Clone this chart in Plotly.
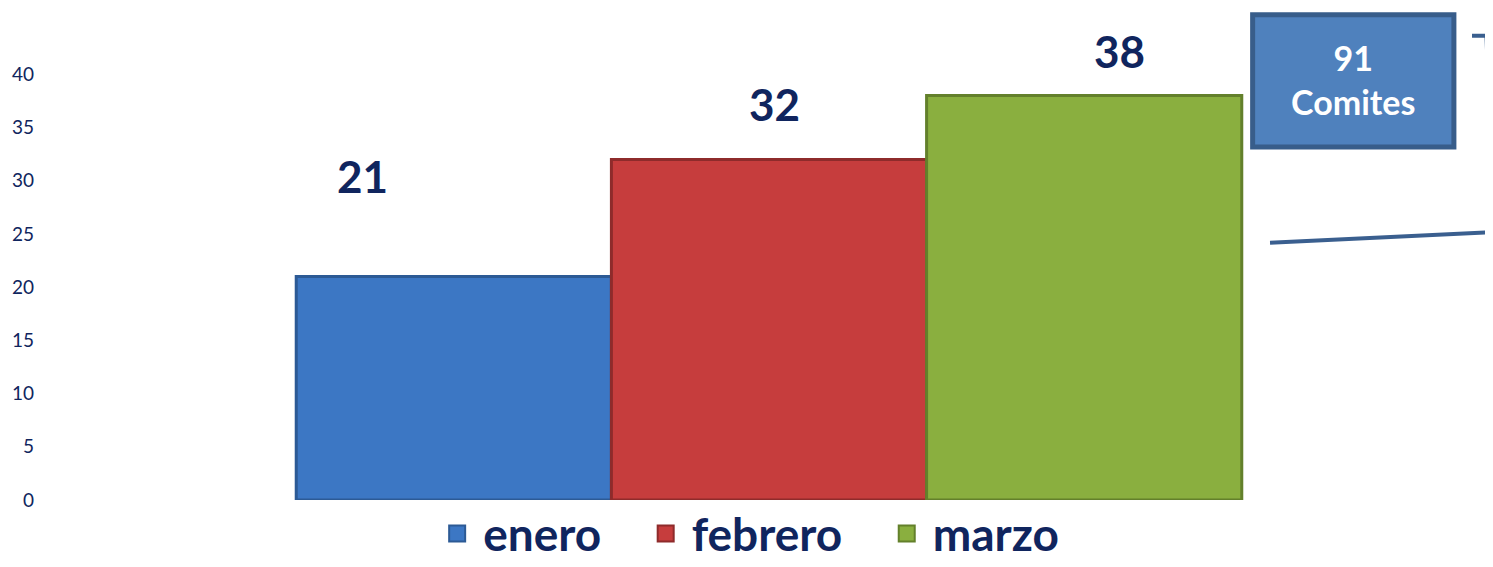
import plotly.graph_objects as go

# datos del gráfico
meses = ["enero", "febrero", "marzo"]
comites = [21, 32, 38]
colores = ["#3C77C4", "#C63D3D", "#8AAF3F"]
bordes = ["#2C5A95", "#8E2B2B", "#63802B"]
ticks_y = [0, 5, 10, 15, 20, 25, 30, 35, 40]

# desplazamiento manual de las etiquetas (como en el original)
label_shift = [(-91, 100), (5, 55), (34, 45)]

NAVY = "#10255E"
FONT = "Lato"

fig = go.Figure()

for mes, val, col, brd in zip(meses, comites, colores, bordes):
    fig.add_trace(
        go.Bar(
            x=[""],
            y=[val],
            name=mes,
            marker=dict(color=col, line=dict(color=brd, width=3)),
            hoverinfo="skip",
            showlegend=False,
        )
    )

# entradas de leyenda con cuadrados más grandes
for mes, col, brd in zip(meses, colores, bordes):
    fig.add_trace(
        go.Scatter(
            x=[None],
            y=[None],
            mode="markers",
            name=mes + "\u00a0\u00a0\u00a0",
            marker=dict(symbol="square", size=26, color=col, line=dict(color=brd, width=2)),
        )
    )

annotations = []
for i, (val, (dx, dy)) in enumerate(zip(comites, label_shift)):
    annotations.append(
        dict(
            x=0, y=val, xref="x", yref="y",
            text=f"<b>{val}</b>",
            showarrow=False,
            xshift=(i - 1) * 316 + dx,
            yshift=dy,
            font=dict(family=FONT, size=44, color=NAVY),
        )
    )

# caja con el total
total = sum(comites)
annotations.append(
    dict(
        x=0.903, y=0.877, xref="paper", yref="paper",
        xanchor="center", yanchor="middle",
        text=f"<b>{total}<br>Comites</b>",
        showarrow=False,
        font=dict(family=FONT, size=34, color="white"),
        align="center",
    )
)

shapes = [
    dict(type="rect", xref="paper", yref="paper",
         x0=0.834, x1=0.973, y0=0.737, y1=1.013,
         fillcolor="#4F81BD", line=dict(color="#385D8A", width=5)),
    dict(type="path", xref="paper", yref="paper",
         path="M 0.9855 0.969 L 0.9955 0.969 L 1.0 0.6",
         line=dict(color="#3A5F8F", width=4)),
    dict(type="line", xref="paper", yref="paper",
         x0=0.846, y0=0.537, x1=1.0, y1=0.559,
         line=dict(color="#3A5F8F", width=4)),
]

# la página tiene 8px de margen en el body: se compensa aquí
fig.update_layout(
    width=1485,
    height=559,
    margin=dict(l=37, r=0, t=13, b=67, autoexpand=False),
    plot_bgcolor="white",
    paper_bgcolor="white",
    barmode="group",
    bargap=0.347,
    bargroupgap=0,
    showlegend=True,
    legend=dict(
        orientation="h",
        x=0.497, xanchor="center",
        y=0.006, yanchor="top",
        bgcolor="rgba(0,0,0,0)",
        font=dict(family=FONT, size=46, color=NAVY, weight="bold"),
        itemwidth=42,
    ),
    xaxis=dict(showticklabels=False, showgrid=False, zeroline=False, showline=False,
               automargin=False),
    yaxis=dict(
        range=[0, 45],
        tickvals=ticks_y,
        showgrid=False,
        zeroline=False,
        showline=False,
        automargin=False,
        tickfont=dict(family=FONT, size=19, color=NAVY),
        ticklabelstandoff=10,
    ),
    annotations=annotations,
    shapes=shapes,
)

fig.write_html("out.html")
